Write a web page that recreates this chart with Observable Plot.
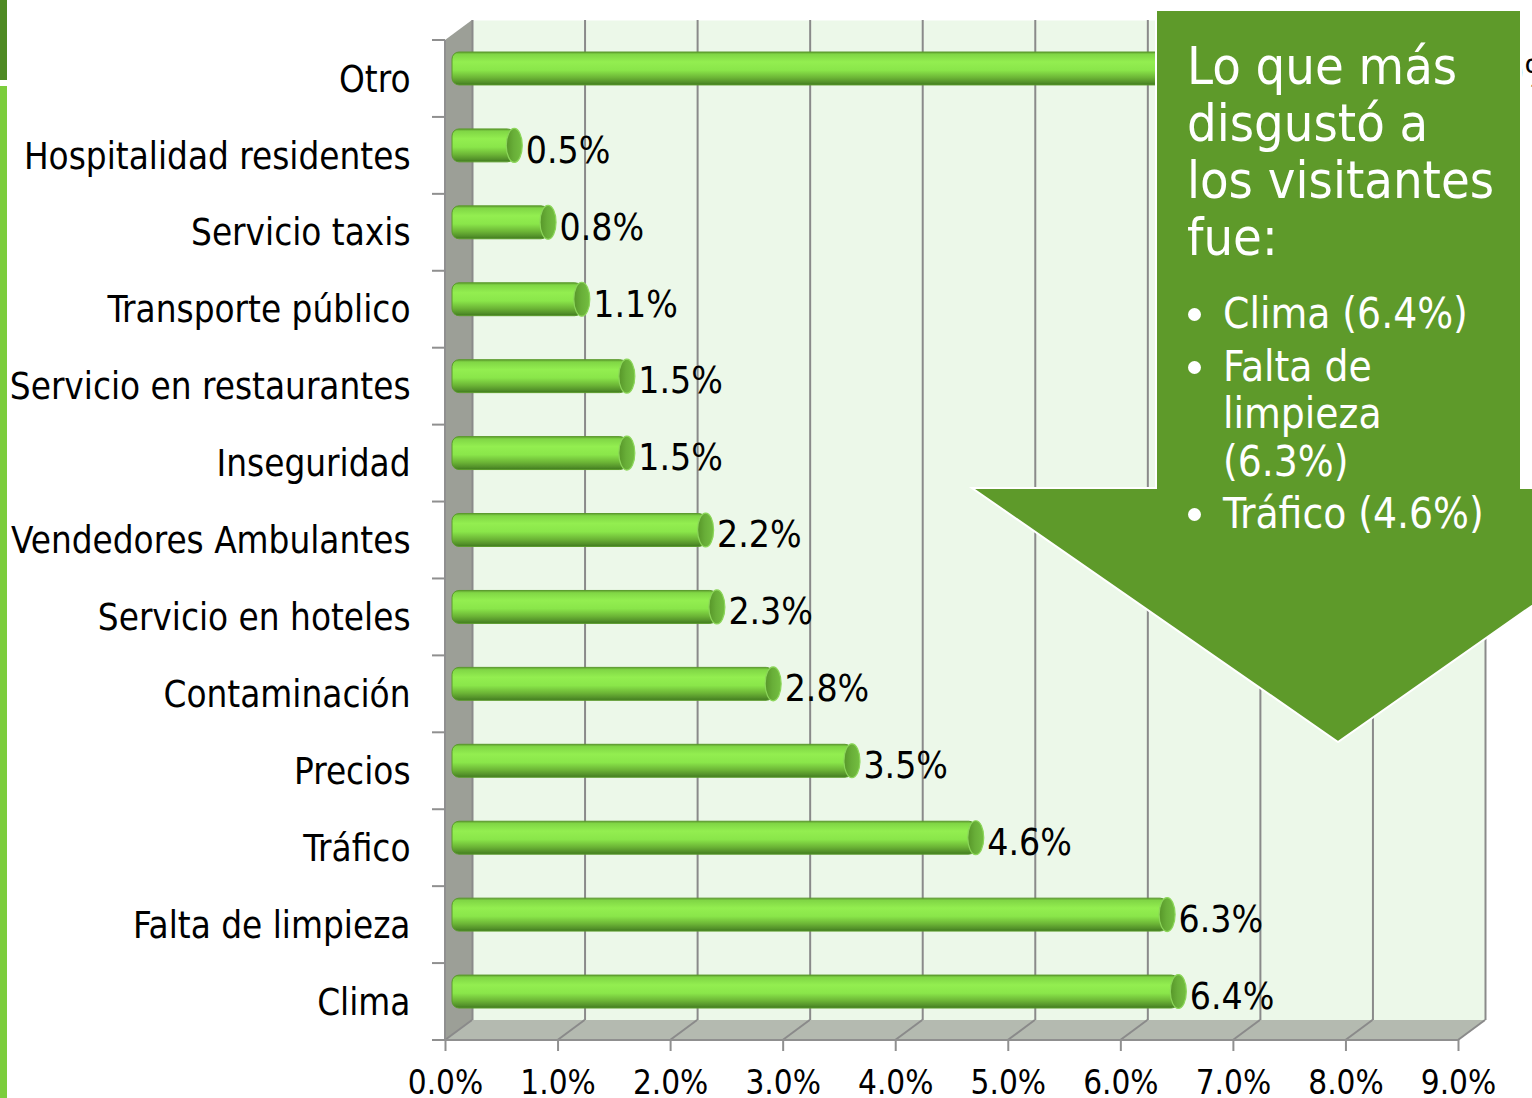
<!DOCTYPE html>
<html>
<head>
<meta charset="utf-8">
<script src="https://cdn.jsdelivr.net/npm/d3@7"></script>
<script src="https://cdn.jsdelivr.net/npm/@observablehq/plot@0.6"></script>
<style>
  html, body { margin: 0; padding: 0; background: #fff; }
  body { width: 1532px; height: 1098px; overflow: hidden; position: relative;
         font-family: "DejaVu Sans Condensed", "DejaVu Sans", sans-serif; font-stretch: condensed; }
  #chart { position: absolute; left: 0; top: 0; }
  #strip-top { position: absolute; left: 0; top: 0; width: 7px; height: 80px; background: #4e8a23; }
  #strip-bot { position: absolute; left: 0; top: 86px; width: 7px; height: 1012px; background: #7ccd3c; }
  #callout-shape { position: absolute; left: 0; top: 0; }
  #callout-text { position: absolute; left: 1187px; top: 38px; color: #fff; }
  #callout-title { font-size: 52px; line-height: 57px; }
  #callout-list { margin: 24px 0 0 0; padding: 0; list-style: none; font-size: 42px; line-height: 47.5px; }
  #callout-list li { position: relative; padding-left: 36px; margin-bottom: 5px; }
  #callout-list li::before { content: ""; position: absolute; left: 1px; top: 18px; width: 13px; height: 13px; border-radius: 50%; background: #fff; }
</style>
</head>
<body>
<div id="chart"></div>
<div id="strip-top"></div>
<div id="strip-bot"></div>
<svg id="callout-shape" width="1532" height="1098">
  <polygon points="1156,10 1521,10 1521,488 1700,488 1338,742 972,488 1156,488"
           fill="#5e9a2a" stroke="#ffffff" stroke-width="2" stroke-linejoin="miter"/>
</svg>
<div id="callout-text">
  <div id="callout-title">Lo que más<br>disgustó a<br>los visitantes<br>fue:</div>
  <ul id="callout-list">
    <li>Clima (6.4%)</li>
    <li>Falta de<br>limpieza<br>(6.3%)</li>
    <li>Tráfico (4.6%)</li>
  </ul>
</div>
<script>
// ---- data ----
const categories = [
  "Otro", "Hospitalidad residentes", "Servicio taxis", "Transporte público",
  "Servicio en restaurantes", "Inseguridad", "Vendedores Ambulantes",
  "Servicio en hoteles", "Contaminación", "Precios", "Tráfico",
  "Falta de limpieza", "Clima"
];
const values = [8.9, 0.5, 0.8, 1.1, 1.5, 1.5, 2.2, 2.3, 2.8, 3.5, 4.6, 6.3, 6.4];
const xTicks = [0, 1, 2, 3, 4, 5, 6, 7, 8, 9];
const xTickLabels = ["0.0%", "1.0%", "2.0%", "3.0%", "4.0%", "5.0%", "6.0%", "7.0%", "8.0%", "9.0%"];

const data = categories.map((c, i) => ({cat: c, v: values[i]}));

// 3D depth offsets (back wall and bar mid-depth)
const DX = 27, DY = -20;
const BX = 13, BY = -10;
const FONT = '"DejaVu Sans Condensed", "DejaVu Sans", sans-serif';

// custom mark: side wall, floor, floor diagonals, axis lines, category ticks, gradient defs
function frame3d(index, scales, values, dims) {
  const x = scales.x;
  const x0 = x(xTicks[0]), x1 = x(xTicks[xTicks.length - 1]);
  const top = dims.marginTop, bottom = dims.height - dims.marginBottom;
  const g = d3.create("svg:g");
  const defs = g.append("defs");
  const grad = defs.append("linearGradient").attr("id", "barGrad")
    .attr("x1", 0).attr("y1", 0).attr("x2", 0).attr("y2", 1);
  [["0%", "#5f9e2f"], ["7%", "#80d645"], ["30%", "#93ee50"], ["55%", "#8ae64a"],
   ["78%", "#6cb536"], ["92%", "#54922a"], ["100%", "#3f7a1e"]]
    .forEach(([o, c]) => grad.append("stop").attr("offset", o).attr("stop-color", c));
  const capGrad = defs.append("linearGradient").attr("id", "capGrad")
    .attr("x1", 0).attr("y1", 0).attr("x2", 1).attr("y2", 0);
  [["0%", "#579629"], ["45%", "#68ae38"], ["100%", "#74bf41"]]
    .forEach(([o, c]) => capGrad.append("stop").attr("offset", o).attr("stop-color", c));

  // floor
  g.append("polygon")
    .attr("points", [[x0, bottom], [x0 + DX, bottom + DY], [x1 + DX, bottom + DY], [x1, bottom]].join(" "))
    .attr("fill", "#b4bab0");
  // left side wall
  g.append("polygon")
    .attr("points", [[x0, top], [x0 + DX, top + DY], [x0 + DX, bottom + DY], [x0, bottom]].join(" "))
    .attr("fill", "#9c9f97");
  // floor diagonals
  g.selectAll("line.diag").data(xTicks).join("line").attr("class", "diag")
    .attr("x1", d => x(d)).attr("y1", bottom)
    .attr("x2", d => x(d) + DX).attr("y2", bottom + DY)
    .attr("stroke", "#8a8a8a").attr("stroke-width", 2);
  // front axis lines
  g.append("line").attr("x1", x0).attr("x2", x1).attr("y1", bottom).attr("y2", bottom)
    .attr("stroke", "#8f8f8f").attr("stroke-width", 2);
  g.append("line").attr("x1", x0).attr("x2", x0).attr("y1", top).attr("y2", bottom)
    .attr("stroke", "#8f8f8f").attr("stroke-width", 2);
  // category boundary ticks
  const n = categories.length, step = (bottom - top) / n;
  g.selectAll("line.ct").data(d3.range(n + 1)).join("line").attr("class", "ct")
    .attr("x1", x0 - 13).attr("x2", x0)
    .attr("y1", i => top + i * step).attr("y2", i => top + i * step)
    .attr("stroke", "#8f8f8f").attr("stroke-width", 2);
  return g.node();
}

const chart = Plot.plot({
  width: 1532,
  height: 1098,
  marginLeft: 445,
  marginRight: 74,
  marginTop: 40,
  marginBottom: 58,
  style: {fontFamily: FONT, fontStretch: "condensed", background: "transparent", color: "#000", overflow: "visible"},
  x: {domain: [0, 9]},
  y: {domain: categories, padding: 0, round: false},
  marks: [
    // back wall
    Plot.frame({fill: "#ecf8e9", dx: DX, dy: DY}),
    frame3d,
    // back grid lines
    Plot.ruleX(xTicks, {dx: DX, dy: DY, stroke: "#8a8a8a", strokeWidth: 2, strokeOpacity: 1}),
    // cylinder bodies
    Plot.barX(data, {
      y: "cat", x: "v", dx: BX, dy: BY,
      insetTop: 22, insetBottom: 22, insetLeft: -6,
      rx: 7, fill: "url(#barGrad)", stroke: "#5a9a2c", strokeWidth: 1
    }),
    // cylinder end caps
    Plot.barX(data, {
      y: "cat", x1: "v", x2: "v", dx: BX, dy: BY,
      insetTop: 21.5, insetBottom: 21.5, insetLeft: -8, insetRight: -8,
      rx: 8, ry: 17, fill: "url(#capGrad)", stroke: "#8cd65a", strokeWidth: 1.2
    }),
    // value labels
    Plot.text(data, {
      y: "cat", x: "v", text: d => d.v.toFixed(1) + "%",
      dx: BX + 11, dy: BY + 5, textAnchor: "start", fontSize: 37, fill: "#000"
    }),
    Plot.axisY({tickSize: 0, tickPadding: 35, fontSize: 36.5, dy: 1, label: null}),
    Plot.axisX({
      ticks: xTicks, tickFormat: (d, i) => xTickLabels[i],
      tickSize: 11, tickPadding: 19, fontSize: 33,
      stroke: "#8f8f8f", strokeWidth: 2, fill: "#000", label: null
    })
  ]
});
document.getElementById("chart").appendChild(chart);
</script>
</body>
</html>
